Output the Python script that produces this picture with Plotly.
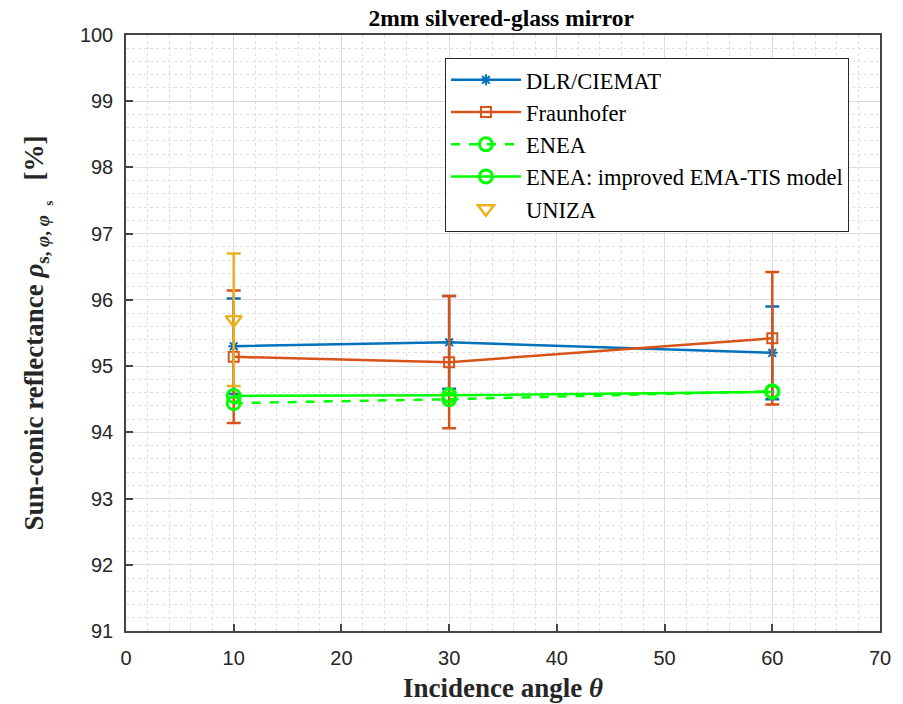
import plotly.graph_objects as go

angles = [10, 30, 60]
dlr = [95.30, 95.36, 95.20]
dlr_err = [0.72, 0.70, 0.70]
fraun = [95.14, 95.06, 95.42]
fraun_err = [1.0, 1.0, 1.0]
enea = [94.44, 94.50, 94.62]
enea_imp = [94.55, 94.56, 94.61]
uniza_x = [10]
uniza = [95.70]
uniza_err = [1.0]

BLUE = "#0072BD"
ORANGE = "#D95319"
GREEN = "#00FF00"
YELLOW = "#EDB120"
SERIF = "Liberation Serif, Times New Roman, serif"
SANS = "Liberation Sans, Arial, sans-serif"
NB = "\u00a0"

fig = go.Figure()
fig.add_trace(go.Scatter(
    x=angles, y=dlr, name="DLR/CIEMAT", mode="lines+markers",
    line=dict(color=BLUE, width=2.5),
    marker=dict(symbol="asterisk-open", size=9, color=BLUE, line=dict(color=BLUE, width=2)),
    error_y=dict(type="data", array=dlr_err, color=BLUE, thickness=2.5, width=7)))
fig.add_trace(go.Scatter(
    x=angles, y=fraun, name="Fraunhofer", mode="lines+markers",
    line=dict(color=ORANGE, width=2.5),
    marker=dict(symbol="square-open", size=10, color=ORANGE, line=dict(color=ORANGE, width=2)),
    error_y=dict(type="data", array=fraun_err, color=ORANGE, thickness=2.5, width=7)))
fig.add_trace(go.Scatter(
    x=angles, y=enea, name="ENEA", mode="lines+markers",
    line=dict(color=GREEN, width=2.5, dash="dash"),
    marker=dict(symbol="circle-open", size=13, color=GREEN, line=dict(color=GREEN, width=3))))
fig.add_trace(go.Scatter(
    x=angles, y=enea_imp, name="ENEA: improved EMA-TIS model", mode="lines+markers",
    line=dict(color=GREEN, width=2.5),
    marker=dict(symbol="circle-open", size=13, color=GREEN, line=dict(color=GREEN, width=3))))
fig.add_trace(go.Scatter(
    x=uniza_x, y=uniza, name="UNIZA", mode="markers",
    marker=dict(symbol="triangle-down-open", size=14, color=YELLOW, line=dict(color=YELLOW, width=2.5)),
    error_y=dict(type="data", array=uniza_err, color=YELLOW, thickness=2.5, width=7)))

axis_common = dict(
    showline=True, linecolor="#444", linewidth=1.5, mirror=True,
    ticks="inside", ticklen=7, tickcolor="#444", tickwidth=1.5,
    showgrid=True, gridcolor="#dcdcdc", gridwidth=1, zeroline=False,
    tickfont=dict(family=SANS, size=20, color="#262626"), automargin=False,
)
fig.update_xaxes(range=[0, 70], dtick=10, **axis_common, ticklabelstandoff=8,
                 minor=dict(dtick=2, showgrid=True, gridcolor="#e0e0e0", griddash="dot", gridwidth=1),
                 title=dict(text="<b>Incidence angle <i>θ</i></b>", font=dict(family=SERIF, size=27, color="#262626"), standoff=10))
ylab = ("<b>Sun-conic reflectance <i>ρ</i><sub>s," + NB + "<i>φ</i>," + NB + "<i>φ</i>" + NB * 2
        + "<sub>s</sub></sub>" + NB * 3 + "[%]</b>")
fig.update_yaxes(range=[91, 100], dtick=1, **axis_common, ticklabelstandoff=7,
                 minor=dict(dtick=0.2, showgrid=True, gridcolor="#e0e0e0", griddash="dot", gridwidth=1),
                 title=dict(text=ylab, font=dict(family=SERIF, size=27, color="#262626"), standoff=28))

fig.update_layout(
    width=903, height=704,
    margin=dict(l=126, r=23, t=35, b=73),
    plot_bgcolor="white", paper_bgcolor="white",
    title=dict(text="<b>2mm silvered-glass mirror</b>", x=0.555, xanchor="center", y=0.975, yanchor="middle",
               font=dict(family=SERIF, size=23.5, color="black")),
    font=dict(family=SERIF, color="black"),
    legend=dict(x=0.423, y=0.962, xanchor="left", yanchor="top",
                bgcolor="white", bordercolor="#262626", borderwidth=1,
                font=dict(family=SERIF, size=22.5, color="black"),
                tracegroupgap=0, itemwidth=70),
    showlegend=True,
)

fig.write_html("out.html")
